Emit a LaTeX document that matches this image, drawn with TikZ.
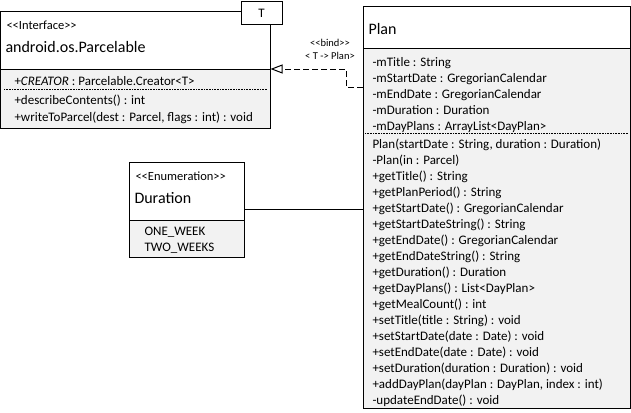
\documentclass[tikz,border=0pt]{standalone}
\usepackage{fontspec}
\setmainfont{Carlito}[Ligatures=TeXOff]
\usepackage{xcolor}
\usepackage{tikz}
\usetikzlibrary{arrows.meta, positioning}

\definecolor{bodygray}{RGB}{242,242,242}
\tikzset{
  headbox/.style={draw, fill=white, anchor=north west, outer sep=0pt, inner sep=0pt},
  bodybox/.style={draw, fill=bodygray, anchor=north west, outer sep=0pt, inner sep=0pt},
  members/.style={anchor=north west, inner sep=0pt, align=left, font=\fontsize{13}{16}\selectfont},
  classname/.style={anchor=west, inner sep=0pt, font=\fontsize{16}{19}\selectfont},
  stereo/.style={anchor=west, inner sep=0pt, font=\fontsize{12.5}{14}\selectfont},
  sepline/.style={line width=0.6pt, dash pattern=on 0.8pt off 0.8pt},
  realize/.style={dash pattern=on 6pt off 3pt, -{Triangle[open, length=12pt, width=9pt]}},
}

\begin{document}
\begin{tikzpicture}[x=1pt, y=-1pt, line width=1pt]
  \useasboundingbox (0,0) rectangle (631,412);

  % android.os.Parcelable
  \node[headbox, minimum width=270pt, minimum height=57pt] (parchead) at (0.5,12) {};
  \node[bodybox, minimum width=270pt, minimum height=59pt] (parcbody) at (parchead.south west) {};
  \node[headbox, minimum width=41pt, minimum height=23pt] (tparam) at (241,2) {};
  \node[inner sep=0pt, font=\fontsize{13}{16}\selectfont] (tname) at (tparam.center) {T};
  \node[stereo] (parcstereo) at (6,25) {<<Interface>>};
  \node[classname] (parcname) at (5,47) {android.os.Parcelable};
  \node[members] (parcattr) at (14,75.5) {+\textit{CREATOR} : Parcelable.Creator<T>};
  \draw[sepline] (4,89) -- (267,89);
  \node[members, font=\fontsize{13}{17}\selectfont] (parcops) at (14,94) {+describeContents() : int\\
    +writeToParcel(dest : Parcel, flags : int) : void};

  % Duration
  \node[headbox, minimum width=115pt, minimum height=58pt] (durhead) at (129,162) {};
  \node[bodybox, minimum width=115pt, minimum height=37pt] (durbody) at (durhead.south west) {};
  \node[stereo] (durstereo) at (135,176) {<<Enumeration>>};
  \node[classname] (durname) at (134,198) {Duration};
  \node[members] (durvals) at (144,226.5) {ONE\_WEEK\\TWO\_WEEKS};

  % Plan
  \node[headbox, minimum width=267pt, minimum height=42pt] (planhead) at (363,7) {};
  \node[bodybox, minimum width=267pt, minimum height=359pt] (planbody) at (planhead.south west) {};
  \node[classname] (planname) at (368,29) {Plan};
  \node[members] (planattr) at (372,56.5) {-mTitle : String\\
    -mStartDate : GregorianCalendar\\
    -mEndDate : GregorianCalendar\\
    -mDuration : Duration\\
    -mDayPlans : ArrayList<DayPlan>};
  \draw[sepline] (365,133) -- (628,133);
  \node[members] (planops) at (372,138.5) {Plan(startDate : String, duration : Duration)\\
    -Plan(in : Parcel)\\
    +getTitle() : String\\
    +getPlanPeriod() : String\\
    +getStartDate() : GregorianCalendar\\
    +getStartDateString() : String\\
    +getEndDate() : GregorianCalendar\\
    +getEndDateString() : String\\
    +getDuration() : Duration\\
    +getDayPlans() : List<DayPlan>\\
    +getMealCount() : int\\
    +setTitle(title : String) : void\\
    +setStartDate(date : Date) : void\\
    +setEndDate(date : Date) : void\\
    +setDuration(duration : Duration) : void\\
    +addDayPlan(dayPlan : DayPlan, index : int)\\
    -updateEndDate() : void};

  % connectors
  \coordinate (bend) at (346,87);
  \coordinate (assoc) at (300,209);
  \draw[realize] (bend -| planbody.west) -- (bend) |- (parchead.south east);
  \node[inner sep=0pt, align=center, font=\fontsize{10.5}{13}\selectfont] (bindlabel) at (330,49.5) {<<bind>>\\< T -> Plan>};
  \draw (assoc -| durhead.east) -- (assoc -| planbody.west);

\end{tikzpicture}
\end{document}
